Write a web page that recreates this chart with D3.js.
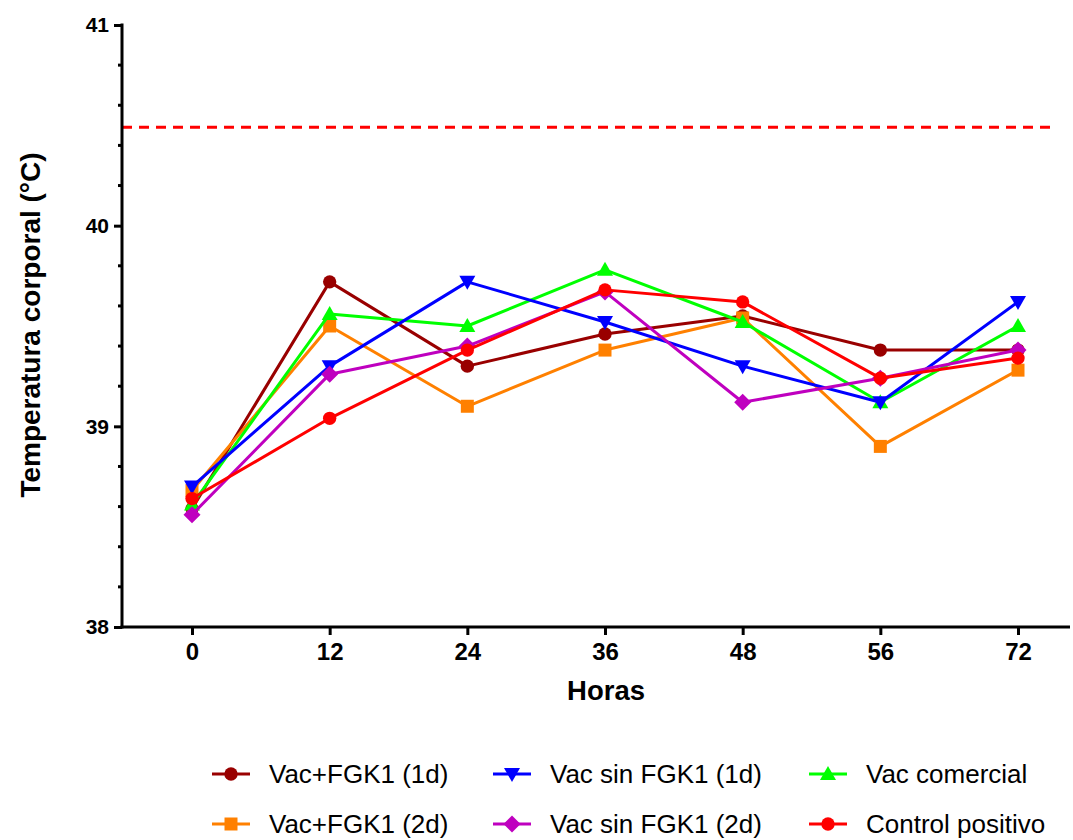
<!DOCTYPE html>
<html>
<head>
<meta charset="utf-8">
<script src="https://cdn.jsdelivr.net/npm/d3@7"></script>
<style>
  html, body { margin: 0; padding: 0; background: #fff; }
  svg { display: block; font-family: "Liberation Sans", Arial, sans-serif; }
</style>
</head>
<body>
<svg id="chart" width="1073" height="840"></svg>
<script>
// ---- Data ----
const hours = ["0", "12", "24", "36", "48", "56", "72"];
const vacFGK1_1d    = [38.59, 39.72, 39.30, 39.46, 39.55, 39.38, 39.38];
const vacSinFGK1_1d = [38.70, 39.30, 39.72, 39.52, 39.30, 39.12, 39.62];
const vacComercial  = [38.61, 39.56, 39.50, 39.78, 39.52, 39.12, 39.50];
const vacFGK1_2d    = [38.68, 39.50, 39.10, 39.38, 39.54, 38.90, 39.28];
const vacSinFGK1_2d = [38.56, 39.26, 39.40, 39.67, 39.12, 39.24, 39.38];
const controlPos    = [38.64, 39.04, 39.38, 39.68, 39.62, 39.24, 39.34];
const threshold = 40.49;
const yTicks = [38, 39, 40, 41];
const seriesNames = ["Vac+FGK1 (1d)", "Vac sin FGK1 (1d)", "Vac comercial",
                     "Vac+FGK1 (2d)", "Vac sin FGK1 (2d)", "Control positivo"];

(function () {
// ---- Series definitions ----
const series = [
  { name: seriesNames[0], values: vacFGK1_1d,    color: "#990000", shape: "circle" },
  { name: seriesNames[3], values: vacFGK1_2d,    color: "#FF8000", shape: "square" },
  { name: seriesNames[2], values: vacComercial,  color: "#00FF00", shape: "triUp" },
  { name: seriesNames[1], values: vacSinFGK1_1d, color: "#0000FF", shape: "triDown" },
  { name: seriesNames[4], values: vacSinFGK1_2d, color: "#BF00BF", shape: "diamond" },
  { name: seriesNames[5], values: controlPos,    color: "#FF0000", shape: "circle" }
];

const svg = d3.select("#chart");

const axisLeftX = 122, axisRightX = 1070, plotTop = 25, plotBottom = 627;
const x = d3.scalePoint().domain(hours).range([192, 1018]);
const y = d3.scaleLinear().domain([38, 41]).range([plotBottom, plotTop]);

function shapePath(shape) {
  switch (shape) {
    case "circle": return d3.symbol(d3.symbolCircle, 140)();
    case "square": return "M-6.5,-6.5H6.5V6.5H-6.5Z";
    case "triUp": return "M0,-8L8,6L-8,6Z";
    case "triDown": return "M0,8L8,-6L-8,-6Z";
    case "diamond": return "M0,-8.5L8.5,0L0,8.5L-8.5,0Z";
  }
}

// ---- Threshold line ----
svg.append("line")
  .attr("x1", axisLeftX).attr("x2", 1057)
  .attr("y1", y(threshold)).attr("y2", y(threshold))
  .attr("stroke", "#FF0000").attr("stroke-width", 3)
  .attr("stroke-dasharray", "10,7");

// ---- Series ----
const line = d3.line().x((d, i) => x(hours[i])).y(d => y(d));
series.forEach(s => {
  const g = svg.append("g");
  g.append("path").datum(s.values)
    .attr("d", line).attr("fill", "none")
    .attr("stroke", s.color).attr("stroke-width", 3)
    .attr("stroke-linejoin", "round");
  g.selectAll("path.m").data(s.values).join("path")
    .attr("class", "m")
    .attr("d", shapePath(s.shape))
    .attr("transform", (d, i) => `translate(${x(hours[i])},${y(d)})`)
    .attr("fill", s.color);
});

// ---- Y axis ----
const yAxisG = svg.append("g").attr("transform", `translate(${axisLeftX},0)`);
const minorTicks = d3.range(38, 41.001, 0.2).map(v => +v.toFixed(1)).filter(v => !yTicks.includes(v));
yAxisG.selectAll("line.minor").data(minorTicks).join("line")
  .attr("class", "minor")
  .attr("x1", -4).attr("x2", 0)
  .attr("y1", d => y(d)).attr("y2", d => y(d))
  .attr("stroke", "#000").attr("stroke-width", 3);
const yAxis = d3.axisLeft(y).tickValues(yTicks).tickSize(8).tickPadding(5).tickFormat(d3.format("d"));
yAxisG.call(yAxis);
yAxisG.select(".domain").remove();
yAxisG.selectAll(".tick line").attr("stroke", "#000").attr("stroke-width", 3);
yAxisG.selectAll(".tick text")
  .attr("font-size", 21).attr("font-weight", "bold").attr("fill", "#000")
  .attr("font-family", "Liberation Sans, Arial, sans-serif");
yAxisG.append("line").attr("x1", 0).attr("x2", 0)
  .attr("y1", plotTop - 1.5).attr("y2", plotBottom + 1.5)
  .attr("stroke", "#000").attr("stroke-width", 3);

// ---- X axis ----
const xAxisG = svg.append("g").attr("transform", `translate(0,${plotBottom})`);
const xAxis = d3.axisBottom(x).tickSize(8).tickPadding(8);
xAxisG.call(xAxis);
xAxisG.select(".domain").remove();
xAxisG.selectAll(".tick line").attr("stroke", "#000").attr("stroke-width", 3);
xAxisG.selectAll(".tick text")
  .attr("font-size", 24).attr("font-weight", "bold").attr("fill", "#000")
  .attr("font-family", "Liberation Sans, Arial, sans-serif");
xAxisG.append("line").attr("x1", axisLeftX - 1.5).attr("x2", axisRightX)
  .attr("y1", 0).attr("y2", 0)
  .attr("stroke", "#000").attr("stroke-width", 3);

// ---- Axis titles ----
svg.append("text")
  .attr("x", 606).attr("y", 700)
  .attr("text-anchor", "middle")
  .attr("font-size", 27.5).attr("font-weight", "bold")
  .text("Horas");

svg.append("text")
  .attr("transform", `translate(40,325) rotate(-90)`)
  .attr("text-anchor", "middle")
  .attr("font-size", 28).attr("font-weight", "bold")
  .text("Temperatura corporal (°C)");

// ---- Legend ----
const legendOrder = [
  { s: series[0], col: 0, row: 0 },
  { s: series[3], col: 1, row: 0 },
  { s: series[2], col: 2, row: 0 },
  { s: series[1], col: 0, row: 1 },
  { s: series[4], col: 1, row: 1 },
  { s: series[5], col: 2, row: 1 }
];
const colX = [212, 493, 809];
const rowY = [774, 824];
const legend = svg.append("g");
legendOrder.forEach(({ s, col, row }) => {
  const g = legend.append("g").attr("transform", `translate(${colX[col]},${rowY[row]})`);
  g.append("line").attr("x1", 0).attr("x2", 38).attr("y1", 0).attr("y2", 0)
    .attr("stroke", s.color).attr("stroke-width", 3);
  g.append("path").attr("d", shapePath(s.shape))
    .attr("transform", "translate(19,0)").attr("fill", s.color);
  g.append("text").attr("x", 57).attr("y", 0).attr("dy", "0.35em")
    .attr("font-size", 26).attr("fill", "#000")
    .text(s.name);
});
})();
</script>
</body>
</html>
